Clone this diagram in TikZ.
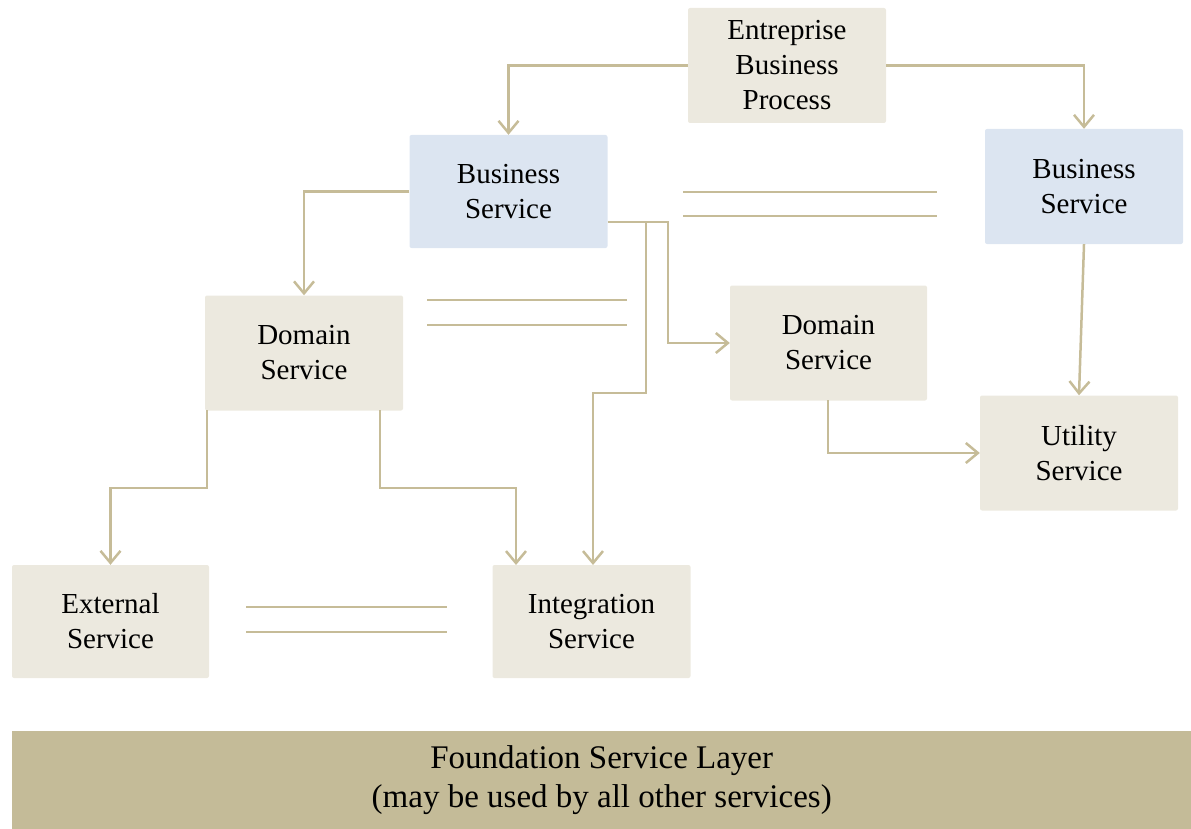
\documentclass[tikz,border=0pt]{standalone}
\usepackage{fontspec}
\setmainfont{Liberation Serif}
\usetikzlibrary{arrows.meta}
\definecolor{boxbeige}{HTML}{ECE9DF}
\definecolor{boxblue}{HTML}{DCE5F1}
\definecolor{linecol}{HTML}{C6BC98}
\definecolor{foundcol}{HTML}{C4BB98}
\tikzset{
  box/.style={fill=boxbeige, rounded corners=2pt, minimum width=198pt, minimum height=115pt,
    align=center, inner sep=0pt, font=\fontsize{29}{35}\selectfont},
  bluebox/.style={box, fill=boxblue},
  conn/.style={draw=linecol, line width=2.5pt, -{Straight Barb[length=12pt,width=20pt,line width=2.5pt]}},
  eqline/.style={draw=linecol, line width=2.5pt},
}
\begin{document}
\begin{tikzpicture}[x=1pt,y=-1pt]
\useasboundingbox (0,0) rectangle (1191,829);
\node[box] (ebp) at (787,65.5) {Entreprise\\Business\\Process};
\node[bluebox, minimum height=113pt] (bsl) at (508.5,191.5) {Business\\Service};
\node[bluebox] (bsr) at (1084,186.5) {Business\\Service};
\node[box] (dsl) at (304,353) {Domain\\Service};
\node[box, minimum width=197pt] (dsr) at (828.5,343) {Domain\\Service};
\node[box] (util) at (1079,453) {Utility\\Service};
\node[box, minimum width=197pt, minimum height=113pt] (ext) at (110.5,621.5) {External\\Service};
\node[box, minimum height=113pt] (isv) at (591.5,621.5) {Integration\\Service};
\node[fill=foundcol, minimum width=1179pt, minimum height=98pt, inner sep=0pt, anchor=north west,
  align=center, font=\fontsize{33}{39}\selectfont] (fnd) at (12,731)
  {Foundation Service Layer\\(may be used by all other services)};

\coordinate (j1) at (668,222);
\coordinate (j2) at (646,222);
\coordinate (k2) at (646,393);
\coordinate (i1) at (593,565);
\coordinate (d1) at (207,410);
\coordinate (d2) at (380,410);
\coordinate (i2) at (516,565);
\coordinate (u1) at (828,400);

\draw[conn] (ebp.west) -| (bsl.north);
\draw[conn] (ebp.east) -| (bsr.north);
\draw[conn] (bsl.west) -| (dsl.north);
\draw[conn] (bsl.east |- j1) -- (j1) |- (dsr.west);
\draw[conn] (j2) -- (k2) -| (i1);
\draw[conn] (d1) -- (207,488) -| (ext.north);
\draw[conn] (d2) -- (380,488) -| (i2);
\draw[conn] (u1) |- (util.west);
\draw[conn] (bsr.south) -- (util.north);

\draw[eqline] (683,192) -- (937,192);
\draw[eqline] (683,216) -- (937,216);
\draw[eqline] (427,300) -- (627,300);
\draw[eqline] (427,325) -- (627,325);
\draw[eqline] (246,607) -- (447,607);
\draw[eqline] (246,632) -- (447,632);
\end{tikzpicture}
\end{document}
